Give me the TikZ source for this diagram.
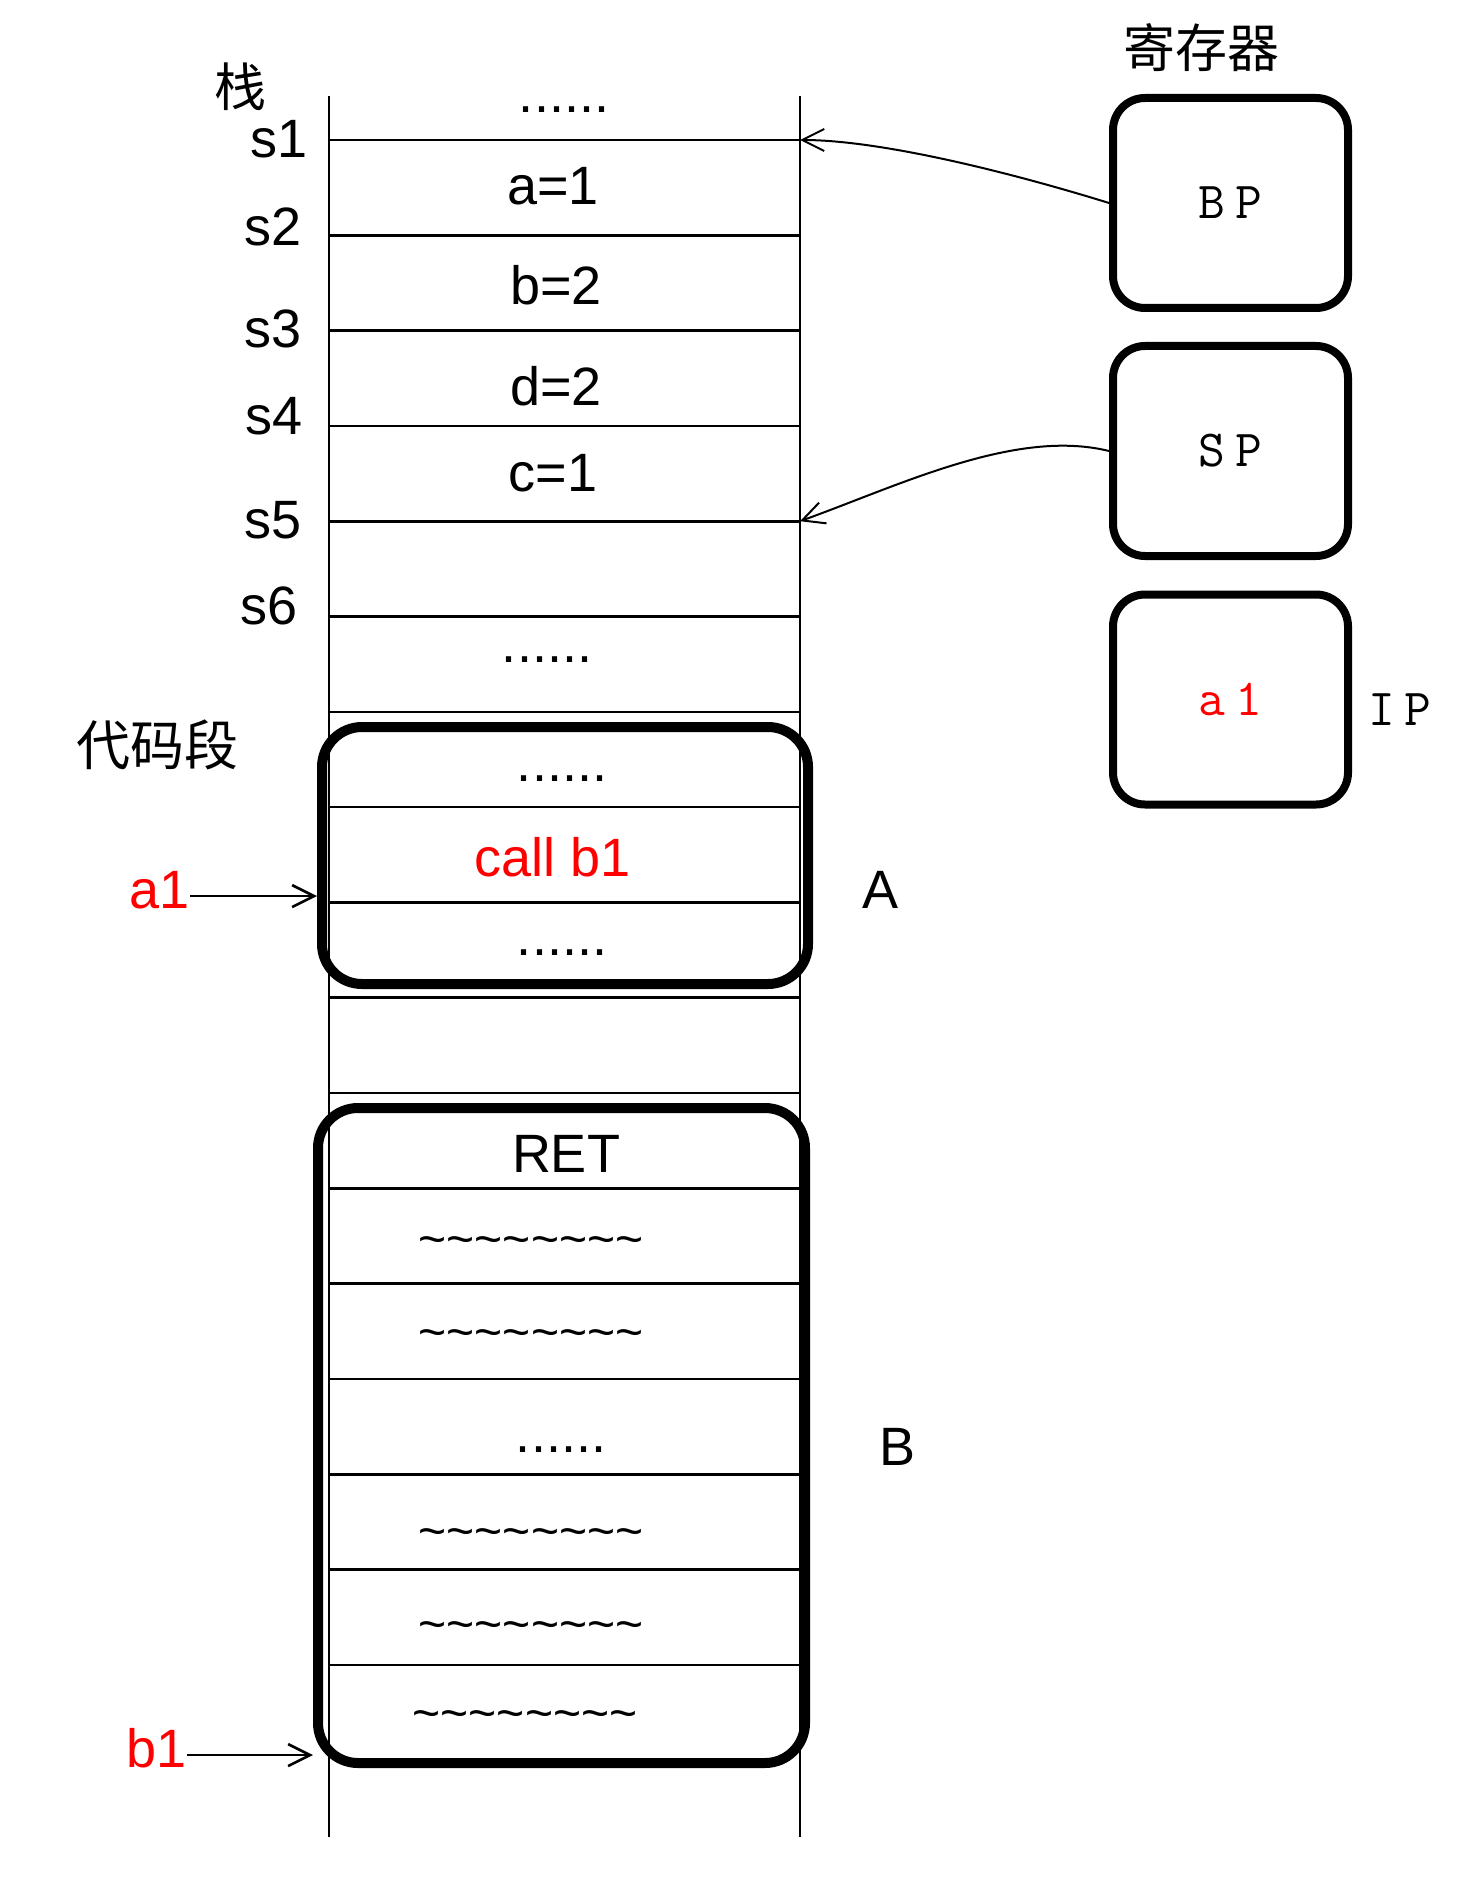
\documentclass[tikz,border=0pt]{standalone}
\usepackage{fontspec}
\setmainfont{Liberation Sans}
\newfontfamily\cjk{Noto Sans CJK SC}
\usetikzlibrary{arrows.meta, positioning}
\newcommand{\wavy}{\textasciitilde\textasciitilde\textasciitilde\textasciitilde\textasciitilde\textasciitilde\textasciitilde\textasciitilde}
\newcommand{\regfont}{\ttfamily\fontsize{26pt}{30pt}\selectfont}
\newcommand{\gap}{\kern4.8pt}

\begin{document}
\begin{tikzpicture}[x=0.5pt, y=-0.5pt]
    \tikzset{
        txt/.style={inner sep=0pt, anchor=base, font=\fontsize{27pt}{30pt}\selectfont},
        wave/.style={txt, font=\fontsize{24pt}{28pt}\selectfont},
        hanzi/.style={inner sep=0pt, font=\cjk\fontsize{26pt}{28pt}\selectfont},
        regbox/.style={draw, rounded corners=16pt, line width=4pt, minimum width=117.5pt, minimum height=105pt, inner sep=0pt, font=\regfont},
        codebox/.style={draw, rounded corners=20pt, line width=5pt, inner sep=0pt},
        cellline/.style={line width=1.3pt},
        ptr/.style={-{Straight Barb[length=11pt,width=11pt]}, line width=1.3pt},
    }
    \useasboundingbox (0,0) rectangle (1476,1904);

    % stack column
    \draw [cellline] (329,96) -- (329,1837);
    \draw [cellline] (800,96) -- (800,1837);
    \foreach \k in {0,...,16} {
        \coordinate (l\k) at (329,{140+95.3*\k});
        \coordinate (r\k) at (800,{140+95.3*\k});
        \draw [cellline] (l\k) -- (r\k);
    }

    \node (stk) [hanzi] at (240,87) {栈};
    \foreach \n/\x/\y in {1/279.5/158, 2/273.5/246, 3/273.5/348, 4/274/434, 5/273.5/538, 6/269.5/624}
        \node (s\n) [txt] at (\x,\y) {s\n};

    \node (top) [txt] at (564,113) {......};
    \node (va) [txt] at (553,205) {a=1};
    \node (vb) [txt] at (556,305) {b=2};
    \node (vd) [txt] at (556,405) {d=2};
    \node (vc) [txt] at (553,491) {c=1};
    \node (free) [txt] at (547,662) {......};

    % code segment
    \node (code) [hanzi, font=\cjk\fontsize{27pt}{30pt}\selectfont] at (157,745) {代码段};
    \node (segA) [codebox, minimum width=243pt, minimum height=128.5pt] at (565,855.5) {};
    \node (adots1) [txt] at (562,781) {......};
    \node (call) [txt, text=red] at (553,876) {call b1};
    \node (adots2) [txt] at (562,955) {......};
    \node (labA) [txt] at (880,908) {A};

    \node (segB) [codebox, minimum width=243.5pt, minimum height=327.5pt] at (561.5,1435.5) {};
    \node (ret) [txt] at (566,1172) {RET};
    \node (w1) [wave] at (531,1255) {\wavy};
    \node (w2) [wave] at (531,1348) {\wavy};
    \node (bdots) [txt] at (561,1452) {......};
    \node (w3) [wave] at (531,1547) {\wavy};
    \node (w4) [wave] at (531,1640) {\wavy};
    \node (w5) [wave] at (525,1729) {\wavy};
    \node (labB) [txt] at (897,1465) {B};

    \node (a1) [txt, text=red, anchor=base east] at (190,908) {a1};
    \node (b1) [txt, text=red, anchor=base east] at (187,1767) {b1};
    \draw [ptr] ([yshift=-3.2pt]a1.east) -- ([yshift=-3.2pt]a1.east -| segA.west);
    \draw [ptr] ([yshift=-3.7pt]b1.east) -- ([yshift=-3.7pt]b1.east -| segB.west);

    % registers
    \node (regs) [hanzi] at (1201,48) {寄存器};
    \node (bp) [regbox] at (1230.5,203) {B\gap P};
    \node (sp) [regbox] at (1230.5,451) {S\gap P};
    \node (ip) [regbox, text=red] at (1230.5,699.5) {a\gap 1};
    \node (iplbl) [inner sep=0pt, font=\regfont] at (1400,710) {I\gap P};

    \draw [ptr, line width=1pt] (bp.west) .. controls +(-100,-31) and +(80,0) .. (r0);
    \draw [ptr, line width=1pt] (sp.west) .. controls +(-93,-23) and +(100,-36) .. (r4);
\end{tikzpicture}
\end{document}
